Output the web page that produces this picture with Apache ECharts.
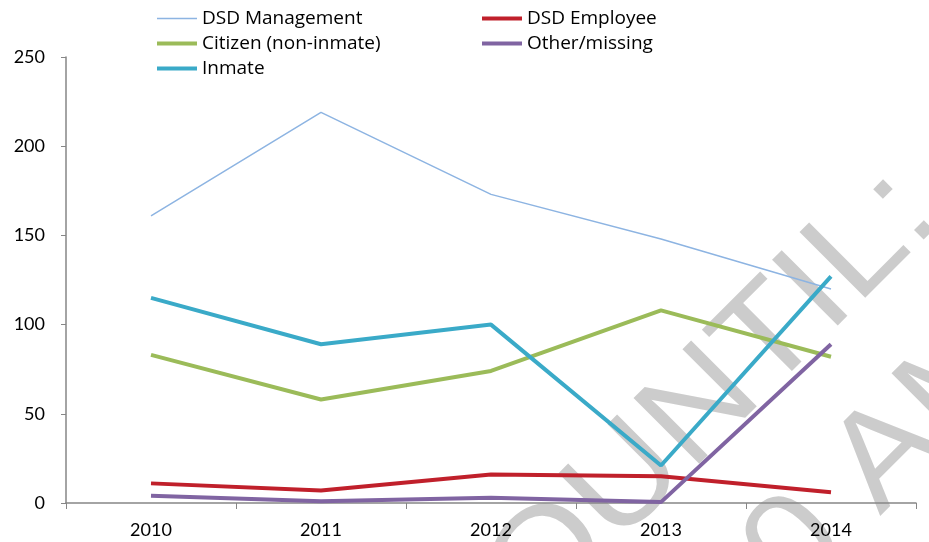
<!DOCTYPE html>
<html>
<head>
<meta charset="utf-8">
<script src="https://cdn.jsdelivr.net/npm/echarts@6/dist/echarts.min.js"></script>
<style>
  html, body { margin: 0; padding: 0; background: #fff; }
  #main { width: 929px; height: 542px; }
</style>
</head>
<body>
<div id="main"></div>
<script>
var years = ['2010', '2011', '2012', '2013', '2014'];
var dsdManagement = [161, 219, 173, 148, 120];
var dsdEmployee = [11, 7, 16, 15, 6];
var citizen = [83, 58, 74, 108, 82];
var otherMissing = [4, 1, 3, 0.5, 89];
var inmate = [115, 89, 100, 21, 127];

var chartDom = document.getElementById('main');
var myChart = echarts.init(chartDom);
var font = 'Lato, "Liberation Sans", sans-serif';
var legendFont = '"Open Sans", "Liberation Sans", sans-serif';
var markFont = '"Liberation Sans", Arial, sans-serif';
var markFill = 'rgba(120,120,120,0.38)';

function lineSeries(name, data, color, width) {
  return {
    name: name,
    type: 'line',
    data: data,
    symbol: 'none',
    lineStyle: { color: color, width: width },
    itemStyle: { color: color }
  };
}

// one legend per entry so every line icon keeps its own thickness
function legendAt(name, left, top, h) {
  return {
    data: [name],
    left: left,
    top: top,
    icon: 'rect',
    itemWidth: 40,
    itemHeight: h,
    padding: 0,
    textStyle: { fontSize: 19, color: '#000', fontFamily: legendFont }
  };
}

var option = {
  backgroundColor: '#fff',
  animation: false,
  legend: [
    legendAt('DSD Management', 157, 9, 1.5),
    legendAt('Citizen (non-inmate)', 157, 34, 4),
    legendAt('Inmate', 157, 59, 4),
    legendAt('DSD Employee', 482, 9, 4),
    legendAt('Other/missing', 482, 34, 4)
  ],
  grid: { left: 66, right: 13, top: 57, bottom: 39 },
  xAxis: {
    type: 'category',
    data: years,
    boundaryGap: true,
    axisLine: { lineStyle: { color: '#868686', width: 1.5 } },
    axisTick: { show: true, length: 6, lineStyle: { color: '#868686' } },
    axisLabel: { fontSize: 18, color: '#000', fontFamily: font, margin: 18 }
  },
  yAxis: {
    type: 'value',
    min: 0,
    max: 250,
    interval: 50,
    splitLine: { show: false },
    axisLine: { show: true, lineStyle: { color: '#868686', width: 1.5 } },
    axisTick: { show: true, length: 5, lineStyle: { color: '#868686' } },
    axisLabel: { fontSize: 18, color: '#000', fontFamily: font, margin: 21 }
  },
  series: [
    lineSeries('DSD Management', dsdManagement, '#8db4e2', 1.5),
    lineSeries('DSD Employee', dsdEmployee, '#c0202b', 4),
    lineSeries('Citizen (non-inmate)', citizen, '#9bbb59', 4),
    lineSeries('Other/missing', otherMissing, '#8064a2', 4),
    lineSeries('Inmate', inmate, '#3aaac8', 4)
  ],
  graphic: [
    {
      type: 'group',
      x: 867,
      y: 300,
      rotation: Math.PI / 4,
      z: 100,
      silent: true,
      children: [
        {
          type: 'text',
          x: 110,
          y: -40,
          scaleX: 1.08,
          style: {
            text: 'OUNTIL:',
            fontSize: 135,
            fontFamily: markFont,
            fill: markFill,
            align: 'right',
            verticalAlign: 'middle'
          }
        },
        {
          type: 'text',
          x: 75,
          y: 125,
          scaleX: 1.08,
          style: {
            text: '10 AM',
            fontSize: 135,
            fontFamily: markFont,
            fill: markFill,
            align: 'right',
            verticalAlign: 'middle'
          }
        }
      ]
    }
  ]
};

option && myChart.setOption(option);
</script>
</body>
</html>
